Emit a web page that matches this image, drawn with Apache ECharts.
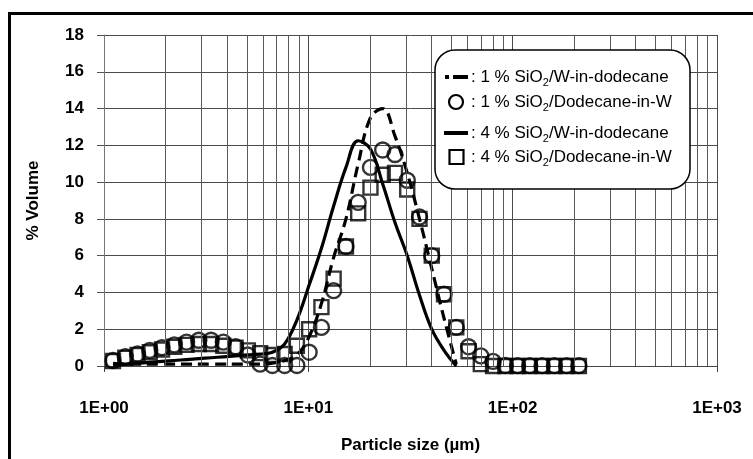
<!DOCTYPE html>
<html><head><meta charset="utf-8">
<script src="https://cdn.jsdelivr.net/npm/echarts@6/dist/echarts.min.js"></script>
<style>html,body{margin:0;padding:0;background:#fff}#c{width:753px;height:459px}</style>
</head><body><div id="c"></div>
<script>
// Particle size channels (µm)
const sizes = [1.107,1.271,1.459,1.675,1.923,2.208,2.535,2.911,3.342,3.837,4.406,5.058,5.808,6.668,7.656,8.790,10.09,11.59,13.30,15.28,17.54,20.14,23.12,26.55,30.48,35.00,40.18,46.13,52.97,60.82,69.82,80.17,92.04,105.7,121.3,139.3,160.0,183.7,210.9];
// 1 % SiO2 / W-in-dodecane (dashed line)
const wInDod1 = [0.15,0.1,0.1,0.1,0.1,0.1,0.1,0.1,0.1,0.1,0.1,0.1,0.1,0.15,0.3,0.6,1.6,3.4,5.9,8.0,11.0,13.5,14.0,12.5,10.5,8.0,5.3,2.6,0.1];
// 1 % SiO2 / Dodecane-in-W (circles)
const dodInW1 = [0.3,0.5,0.65,0.85,1.0,1.15,1.3,1.4,1.4,1.3,1.05,0.6,0.1,0.03,0.03,0.03,0.75,2.1,4.1,6.5,8.9,10.8,11.75,11.5,10.1,8.1,6.0,3.9,2.1,1.05,0.55,0.25,0.03,0.02,0.02,0.02,0.02,0.02,0.02];
// 4 % SiO2 / W-in-dodecane (solid line)
const wInDod4 = [0.05,0.1,0.15,0.2,0.25,0.3,0.35,0.4,0.45,0.5,0.55,0.6,0.65,0.75,1.2,2.5,4.4,6.4,8.7,10.8,12.25,11.8,9.9,7.8,6.0,3.85,2.0,0.85,0.0];
// 4 % SiO2 / Dodecane-in-W (squares)
const dodInW4 = [0.27,0.45,0.6,0.75,0.9,1.05,1.15,1.2,1.2,1.1,1.0,0.85,0.7,0.6,0.65,1.1,2.0,3.2,4.75,6.5,8.3,9.7,10.4,10.5,9.6,8.0,6.0,3.9,2.1,0.8,0.1,0,0,0,0,0,0,0,0];

const xTickLabels = ['1E+00','1E+01','1E+02','1E+03'];
const minorGridX = [2,3,4,5,6,7,8,9,20,30,40,50,60,70,80,90,200,300,400,500,600,700,800,900];
const legendRows = [
  ['1 % SiO','2','/W-in-dodecane'],
  ['1 % SiO','2','/Dodecane-in-W'],
  ['4 % SiO','2','/W-in-dodecane'],
  ['4 % SiO','2','/Dodecane-in-W']
];

const FONT = 'Liberation Sans';
const pair = vals => vals.map((v, i) => [sizes[i], v]);

const chart = echarts.init(document.getElementById('c'), null, {renderer: 'canvas'});

const rowY = [77, 102, 133, 157];
const legendGraphics = [
  {type:'rect', z:50, shape:{x:435, y:50, width:255, height:139, r:20}, style:{fill:'#fff', stroke:'#000', lineWidth:1.5}},
  {type:'line', z:51, shape:{x1:445, y1:rowY[0], x2:449, y2:rowY[0]}, style:{stroke:'#000', lineWidth:4}},
  {type:'line', z:51, shape:{x1:453, y1:rowY[0], x2:468, y2:rowY[0]}, style:{stroke:'#000', lineWidth:4}},
  {type:'circle', z:51, shape:{cx:456, cy:rowY[1], r:7}, style:{fill:'none', stroke:'#000', lineWidth:2.2}},
  {type:'line', z:51, shape:{x1:444, y1:rowY[2], x2:468, y2:rowY[2]}, style:{stroke:'#000', lineWidth:4}},
  {type:'rect', z:51, shape:{x:449.5, y:rowY[3]-7, width:14, height:14}, style:{fill:'none', stroke:'#000', lineWidth:2.2}}
];
legendRows.forEach((r, i) => {
  legendGraphics.push({
    type:'text', z:52, x:471, y:rowY[i],
    style:{
      text:'{a|: ' + r[0] + '}{s|' + r[1] + '}{a|' + r[2] + '}',
      verticalAlign:'middle', align:'left',
      rich:{
        a:{fontFamily:FONT, fontSize:17, lineHeight:22, fill:'#000'},
        s:{fontFamily:FONT, fontSize:11, lineHeight:11, verticalAlign:'bottom', fill:'#000'}
      }
    }
  });
});

const option = {
  animation:false,
  backgroundColor:'#fff',
  grid:{left:104, right:36, top:35, bottom:87},
  xAxis:{
    type:'log', logBase:10, min:1, max:1000,
    axisLine:{show:true, lineStyle:{color:'#444', width:1}},
    axisTick:{show:true, inside:false, length:6, lineStyle:{color:'#444'}},
    axisLabel:{margin:34, fontFamily:FONT, fontSize:17, fontWeight:'bold', color:'#000',
      formatter: v => xTickLabels[Math.round(Math.log10(v))]},
    splitLine:{show:true, lineStyle:{color:'#4a4a4a', width:1}},
    minorTick:{show:false}, minorSplitLine:{show:false},
    name:'Particle size (µm)', nameLocation:'middle', nameGap:71,
    nameTextStyle:{fontFamily:FONT, fontSize:17, fontWeight:'bold', color:'#000'}
  },
  yAxis:{
    type:'value', min:0, max:18, interval:2,
    axisLine:{show:true, lineStyle:{color:'#777', width:1}},
    axisTick:{show:true, inside:false, length:7, lineStyle:{color:'#555'}},
    axisLabel:{margin:20, fontFamily:FONT, fontSize:17, fontWeight:'bold', color:'#000'},
    splitLine:{show:true, lineStyle:{color:'#4a4a4a', width:1}},
    name:'% Volume', nameLocation:'middle', nameGap:62, nameRotate:90,
    nameTextStyle:{fontFamily:FONT, fontSize:17, fontWeight:'bold', color:'#000'}
  },
  series:[
    {type:'line', name:'minor', data:[[1,0]], symbol:'none', lineStyle:{opacity:0}, silent:true, z:1,
      markLine:{silent:true, symbol:['none','none'], label:{show:false}, animation:false,
        lineStyle:{color:'#5a5a5a', width:1, type:'solid'},
        data: minorGridX.map(v => ({xAxis:v}))}},
    {type:'line', name:'1 % SiO2/W-in-dodecane', data:pair(wInDod1), smooth:0.4, symbol:'none', z:3,
      lineStyle:{color:'#000', width:3.2, type:[11,6]}},
    {type:'scatter', name:'1 % SiO2/Dodecane-in-W', data:pair(dodInW1), symbol:'circle', symbolSize:15, z:4,
      itemStyle:{color:'rgba(0,0,0,0)', borderColor:'#000', borderWidth:2.4}},
    {type:'line', name:'4 % SiO2/W-in-dodecane', data:pair(wInDod4), smooth:0.4, symbol:'none', z:3,
      lineStyle:{color:'#000', width:3.2}},
    {type:'scatter', name:'4 % SiO2/Dodecane-in-W', data:pair(dodInW4), symbol:'rect', symbolSize:14, z:4,
      itemStyle:{color:'rgba(0,0,0,0)', borderColor:'#000', borderWidth:2.4}}
  ],
  graphic:[
    {type:'rect', z:100, shape:{x:9.5, y:13.5, width:800, height:500}, style:{fill:'none', stroke:'#000', lineWidth:3}}
  ].concat(legendGraphics)
};
chart.setOption(option);
</script>
</body></html>
